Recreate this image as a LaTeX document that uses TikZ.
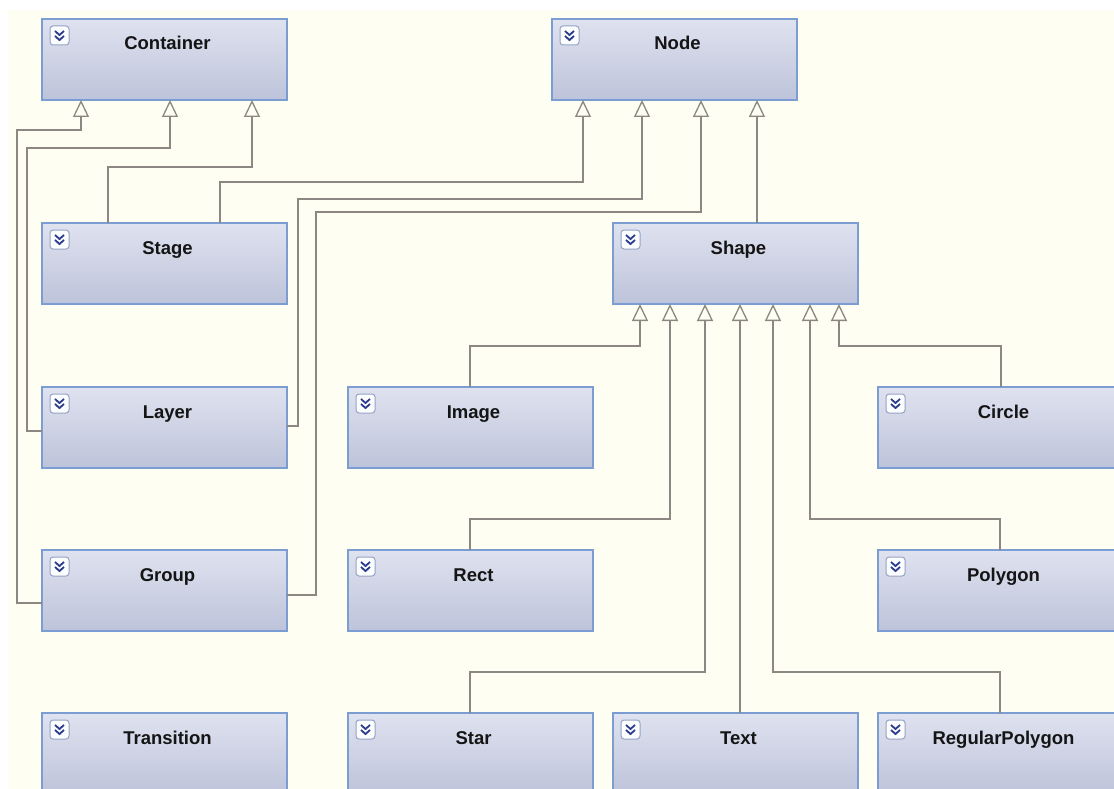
\documentclass[tikz,border=0pt]{standalone}
\usepackage{fontspec}
\setmainfont{Liberation Sans}
\usetikzlibrary{arrows.meta}

\definecolor{paper}{HTML}{FEFEF3}
\definecolor{boxtop}{HTML}{DFE2EF}
\definecolor{boxbottom}{HTML}{BDC3DA}
\definecolor{boxedge}{HTML}{7C9DD2}
\definecolor{wire}{HTML}{8C8783}
\definecolor{chevblue}{HTML}{2B3C8E}
\definecolor{iconedge}{HTML}{93A4C4}
\definecolor{inktext}{HTML}{151515}

\tikzset{
  cls/.style={rectangle, draw=boxedge, line width=1.5pt,
    top color=boxtop, bottom color=boxbottom,
    minimum width=245pt, minimum height=81pt,
    inner sep=0pt, outer sep=0pt, anchor=north west},
  lbl/.style={font=\fontsize{18.5}{20}\selectfont\bfseries, text=inktext,
    inner sep=0pt},
  iconframe/.style={draw=iconedge, fill=white!92!boxtop, line width=1pt,
    rounded corners=3pt},
  chev/.style={draw=chevblue, line width=1.8pt},
  inh/.style={draw=wire, line width=1.5pt,
    -{Triangle[open, length=17pt, width=16pt, line width=1.3pt]}},
}

% class box: name, left x, top y (downwards), title
\newcommand{\umlclass}[4]{%
  \node[cls] (#1) at (#2,-#3) {};
  \node[lbl, anchor=base] (#1-label) at ([xshift=3pt,yshift=-31pt]#1.north) {#4};
  \draw[iconframe] ([xshift=8pt,yshift=-7pt]#1.north west) rectangle ++(19,-19);
  \draw[chev] ([xshift=13pt,yshift=-12pt]#1.north west) -- ++(4.5,-4) -- ++(4.5,4);
  \draw[chev] ([xshift=13pt,yshift=-17pt]#1.north west) -- ++(4.5,-4) -- ++(4.5,4);
}

\begin{document}
\begin{tikzpicture}[x=1pt,y=1pt]
  \clip (0,0) rectangle (1114,-789);
  \fill[white] (0,0) rectangle (1114,-789);
  \fill[paper] (8,-10) rectangle (1114,-789);

  % classes
  \umlclass{container}{42}{19}{Container}
  \umlclass{nodeclass}{552}{19}{Node}
  \umlclass{stage}{42}{223}{Stage}
  \umlclass{shape}{613}{223}{Shape}
  \umlclass{layer}{42}{387}{Layer}
  \umlclass{image}{348}{387}{Image}
  \umlclass{circle}{878}{387}{Circle}
  \umlclass{group}{42}{550}{Group}
  \umlclass{rect}{348}{550}{Rect}
  \umlclass{polygon}{878}{550}{Polygon}
  \umlclass{transition}{42}{713}{Transition}
  \umlclass{star}{348}{713}{Star}
  \umlclass{textclass}{613}{713}{Text}
  \umlclass{regpoly}{878}{713}{RegularPolygon}

  % generalisations towards Container
  \draw[inh] ([xshift=66pt]stage.north west) -- ++(0,56)
    -| ([xshift=210pt]container.south west);
  \draw[inh] ([yshift=-44pt]layer.north west) -- ++(-15,0) -- ++(0,283)
    -| ([xshift=128pt]container.south west);
  \draw[inh] ([yshift=-53pt]group.north west) -- ++(-25,0) -- ++(0,473)
    -| ([xshift=39pt]container.south west);

  % generalisations towards Node
  \draw[inh] ([xshift=178pt]stage.north west) -- ++(0,41)
    -| ([xshift=31pt]nodeclass.south west);
  \draw[inh] ([yshift=-39pt]layer.north east) -- ++(11,0) -- ++(0,227)
    -| ([xshift=90pt]nodeclass.south west);
  \draw[inh] ([yshift=-45pt]group.north east) -- ++(29,0) -- ++(0,383)
    -| ([xshift=149pt]nodeclass.south west);
  \draw[inh] ([xshift=144pt]shape.north west)
    -- ([xshift=144pt]shape.north west |- nodeclass.south);

  % generalisations towards Shape
  \draw[inh] ([xshift=122pt]image.north west) -- ++(0,41)
    -| ([xshift=27pt]shape.south west);
  \draw[inh] ([xshift=122pt]rect.north west) -- ++(0,31)
    -| ([xshift=57pt]shape.south west);
  \draw[inh] ([xshift=122pt]star.north west) -- ++(0,41)
    -| ([xshift=92pt]shape.south west);
  \draw[inh] ([xshift=127pt]textclass.north west)
    -- ([xshift=127pt]textclass.north west |- shape.south);
  \draw[inh] ([xshift=122pt]regpoly.north west) -- ++(0,41)
    -| ([xshift=160pt]shape.south west);
  \draw[inh] ([xshift=122pt]polygon.north west) -- ++(0,31)
    -| ([xshift=197pt]shape.south west);
  \draw[inh] ([xshift=123pt]circle.north west) -- ++(0,41)
    -| ([xshift=226pt]shape.south west);
\end{tikzpicture}
\end{document}
